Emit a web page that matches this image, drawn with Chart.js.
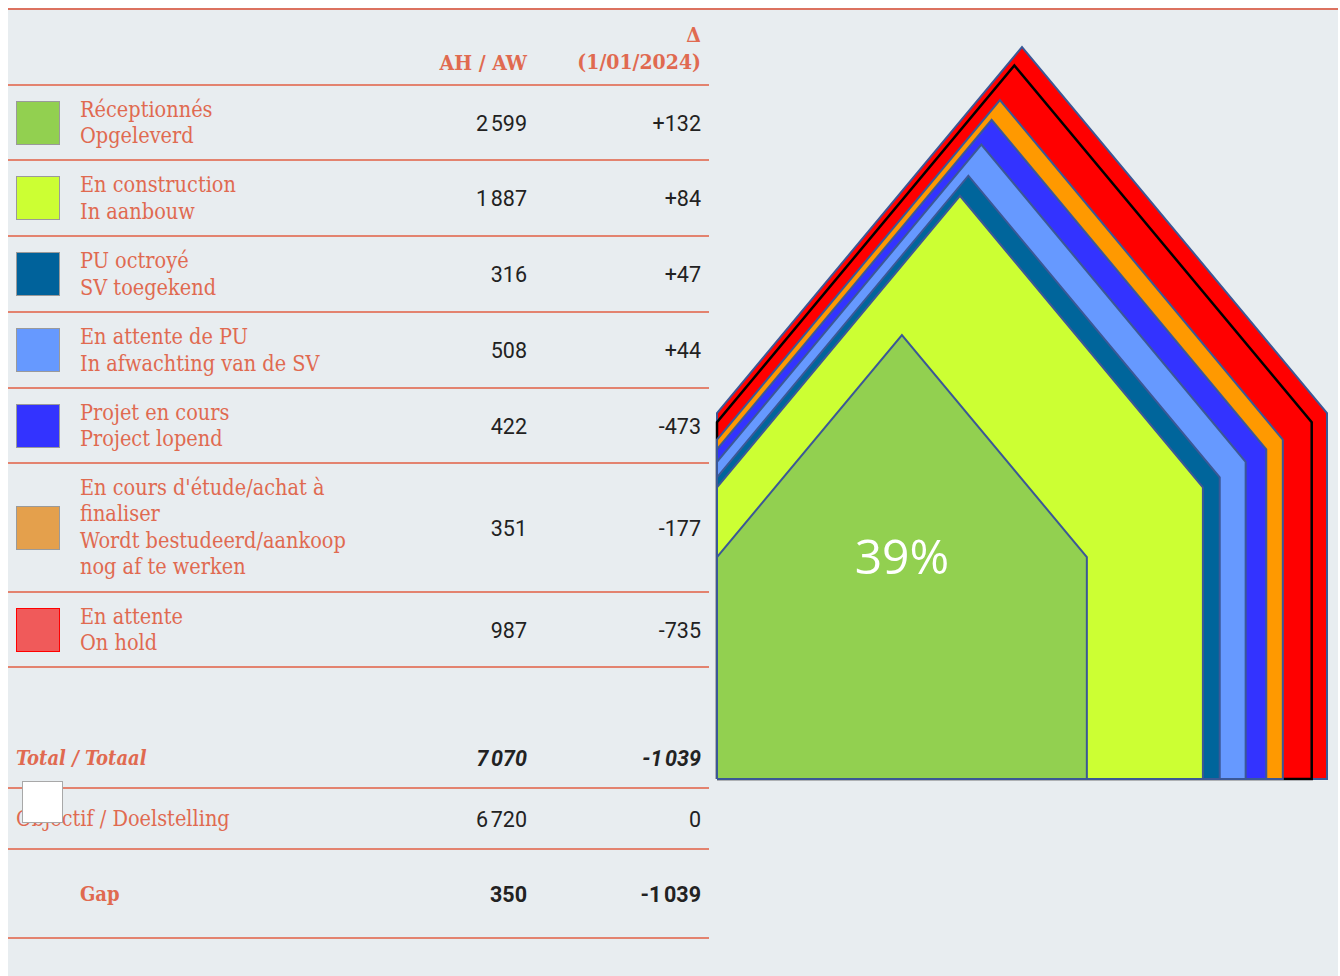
<!DOCTYPE html>
<html>
<head>
<meta charset="utf-8">
<title>Logements</title>
<script src="https://cdn.jsdelivr.net/npm/chart.js@4.4.1/dist/chart.umd.min.js"></script>
<style>
body{margin:0;background:#fff;width:1340px;height:976px;overflow:hidden;position:relative;font-family:'DejaVu Serif Condensed','DejaVu Serif',serif;}
#bg{position:absolute;left:8px;top:10px;width:1330px;height:966px;background:#e8edf0;}
#topline{position:absolute;left:8px;top:8px;width:1330px;height:2px;background:#dc7260;}
.sep{position:absolute;left:8px;width:701px;height:2px;background:#e3836f;}
.cell{position:absolute;transform:translateY(-50%);white-space:nowrap;}
.sw{position:absolute;left:16px;width:44px;height:44px;box-sizing:border-box;border:1px solid #9a9a9a;}
.lab{left:80px;color:#e06a50;font-size:21.5px;line-height:26.5px;white-space:normal;width:285px;}
.num{color:#222;font-family:Roboto,'Liberation Sans',sans-serif;font-size:21.5px;text-align:right;}
.c1{right:813px;}
.c2{right:639px;}
.head{color:#e06a50;font-weight:bold;font-size:21px;}
#chart{position:absolute;left:707px;top:35px;}
</style>
</head>
<body>
<div id="bg"></div>
<div id="topline"></div>
<div id="table"></div>
<canvas id="chart" width="630" height="756"></canvas>
<script>
// table data
var labelsFr = ['Réceptionnés', 'En construction', 'PU octroyé', 'En attente de PU', 'Projet en cours', "En cours d'étude/achat à finaliser", 'En attente'];
var labelsNl = ['Opgeleverd', 'In aanbouw', 'SV toegekend', 'In afwachting van de SV', 'Project lopend', 'Wordt bestudeerd/aankoop nog af te werken', 'On hold'];
var units = [2599, 1887, 316, 508, 422, 351, 987];
var deltas = [132, 84, 47, 44, -473, -177, -735];
var totalDelta = -1039;
var objective = 6720;
var objectiveDelta = 0;
var colors = ['#92d050', '#ccff33', '#00659b', '#6699ff', '#3333ff', '#ff9900', '#ff0000'];
var swatchColors = ['#92d050', '#ccff33', '#00629b', '#6699ff', '#3333ff', '#e4a04c', '#f05a5a'];

function fmt(n){
    var s = String(Math.abs(n)).replace(/\B(?=(\d{3})+(?!\d))/g, '\u202F');
    return (n < 0 ? '-' : '') + s;
}
function fmtDelta(n){
    if(n > 0) return '+' + fmt(n);
    return fmt(n);
}

var table = document.getElementById('table');
function add(cls, html, top, style){
    var d = document.createElement('div');
    d.className = cls;
    d.innerHTML = html;
    d.style.top = top + 'px';
    if(style) d.setAttribute('style', d.getAttribute('style') + ';' + style);
    table.appendChild(d);
    return d;
}
function sep(y){
    var d = document.createElement('div');
    d.className = 'sep';
    d.style.top = (y - 1) + 'px';
    table.appendChild(d);
}

// header
add('cell head c1', 'AH / AW', 62);
add('cell head c2', '&Delta;', 34);
add('cell head c2', '(1/01/2024)', 61);
sep(85);

var rowEdges = [85, 160, 236, 312, 388, 463, 592, 667];
for(var i = 0; i < units.length; i++){
    var cy = (rowEdges[i] + rowEdges[i + 1]) / 2;
    var sw = add('sw', '', cy - 22);
    sw.style.background = swatchColors[i];
    if(i == 6) sw.style.borderColor = '#ff0000';
    add('cell lab', labelsFr[i] + '<br>' + labelsNl[i], cy);
    add('cell num c1', fmt(units[i]), cy);
    add('cell num c2', fmtDelta(deltas[i]), cy);
    sep(rowEdges[i + 1]);
}

var total = units.reduce(function(a, b){ return a + b; }, 0);
add('cell lab', 'Total / Totaal', 758, 'left:16px;font-weight:bold;font-style:italic;font-size:20px');
add('cell num c1', fmt(total), 758, 'font-weight:bold;font-style:italic');
add('cell num c2', fmt(totalDelta), 758, 'font-weight:bold;font-style:italic');
sep(788);
add('cell lab', 'Objectif / Doelstelling', 819, 'left:16px;width:400px');
add('cell num c1', fmt(objective), 819);
add('cell num c2', fmtDelta(objectiveDelta), 819);
add('sw', '', 781, 'left:22px;width:41px;height:42px;background:#fff;border-color:#a8a8a8');
sep(849);
add('cell lab', 'Gap', 894, 'font-weight:bold;font-size:20px');
add('cell num c1', fmt(total - objective), 894, 'font-weight:bold');
add('cell num c2', fmt(totalDelta - objectiveDelta), 894, 'font-weight:bold');
sep(938);

// houses: area grows with the cumulative count
function house(v){
    var s = Math.sqrt(v / total);
    return [{x:0, y:0}, {x:0, y:0.6 * s}, {x:0.5 * s, y:1.2 * s}, {x:s, y:0.6 * s}, {x:s, y:0}, {x:0, y:0}];
}

var houses = [];
var run = 0;
for(var i = 0; i < units.length; i++){
    run += units[i];
    houses.push({value: run, fill: colors[i], border: '#3b5896', width: 2});
}
houses.push({value: objective, fill: 'rgba(0,0,0,0)', border: '#000000', width: 2.5, outline: true});
houses.sort(function(a, b){ return a.value - b.value; });

var datasets = houses.map(function(h, i){
    return {
        data: house(h.value),
        backgroundColor: h.fill,
        borderColor: h.border,
        borderWidth: h.width,
        fill: h.outline ? false : 'shape',
        pointRadius: 0,
        tension: 0,
        clip: 6,
        order: i
    };
});

var pctLabel = {
    id: 'pctLabel',
    afterDatasetsDraw: function(chart){
        var s = Math.sqrt(units[0] / total);
        var x = chart.scales.x.getPixelForValue(s / 2);
        var y = chart.scales.y.getPixelForValue(0.6 * s);
        var ctx = chart.ctx;
        ctx.save();
        ctx.fillStyle = '#ffffff';
        ctx.font = "48px 'Open Sans', 'Noto Sans', sans-serif";
        ctx.textAlign = 'center';
        ctx.textBaseline = 'middle';
        ctx.fillText(Math.round(units[0] / objective * 100) + '%', x, y + 3);
        ctx.restore();
    }
};

new Chart(document.getElementById('chart'), {
    type: 'line',
    data: {datasets: datasets},
    options: {
        responsive: false,
        animation: false,
        layout: {padding: {left: 10, right: 10, top: 12, bottom: 12}},
        plugins: {legend: {display: false}, tooltip: {enabled: false}},
        scales: {
            x: {type: 'linear', min: 0, max: 1, display: false},
            y: {type: 'linear', min: 0, max: 1.2, display: false}
        }
    },
    plugins: [pctLabel]
});
</script>
</body>
</html>
